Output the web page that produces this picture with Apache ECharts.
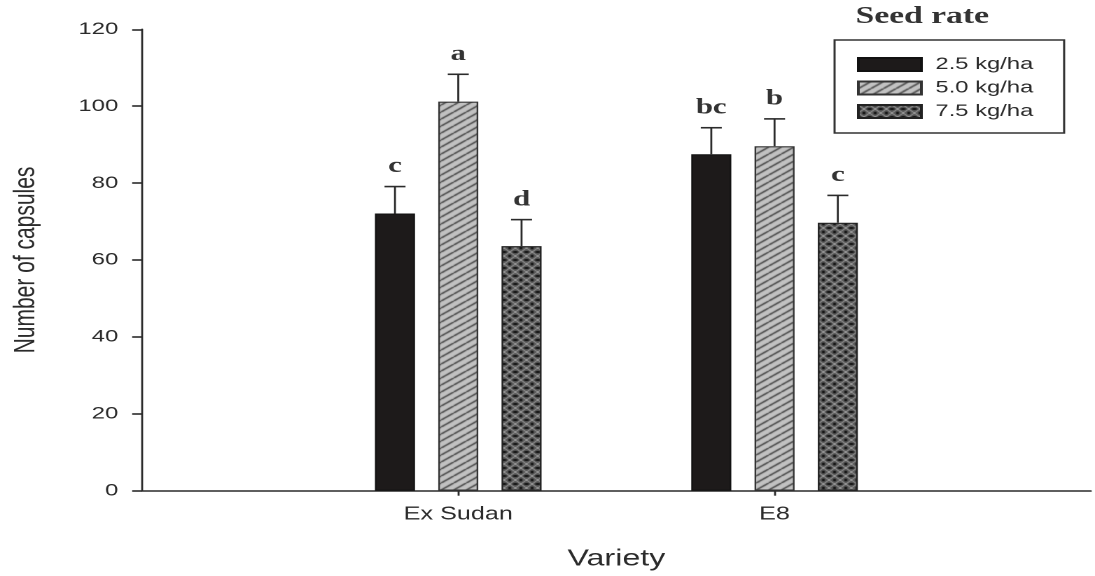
<!DOCTYPE html>
<html><head><meta charset="utf-8">
<script src="https://cdn.jsdelivr.net/npm/echarts@6/dist/echarts.min.js"></script>
<style>
html,body{margin:0;padding:0;background:#fff;overflow:hidden}
#chart{width:782px;height:576px;transform:scaleX(1.40026);transform-origin:0 0;}
</style></head>
<body><div id="chart"></div>
<script>
// ---- data ----
const categories = ['Ex Sudan', 'E8'];
const seriesNames = ['2.5 kg/ha', '5.0 kg/ha', '7.5 kg/ha'];
const rate25 = [72.1, 87.5];
const rate50 = [101.2, 89.6];
const rate75 = [63.6, 69.7];
const err25 = [7.0, 6.9];
const err50 = [7.1, 7.1];
const err75 = [6.9, 7.1];
const letters25 = ['c', 'bc'];
const letters50 = ['a', 'b'];
const letters75 = ['d', 'c'];
const yTicks = [0, 20, 40, 60, 80, 100, 120];

// ---- styling helpers ----
const BAR_W = 28.6, GAP_RATIO = 0.58;
const STEP = BAR_W * (1 + GAP_RATIO);
const INK = '#2b2b2b';

function hatchPattern() {
  const c = document.createElement('canvas');
  c.width = 9; c.height = 7;
  const g = c.getContext('2d');
  g.fillStyle = '#c2c2c2'; g.fillRect(0, 0, 9, 7);
  g.strokeStyle = '#3a3a3a'; g.lineWidth = 1.3;
  for (const dx of [-9, 0, 9]) {
    g.beginPath(); g.moveTo(dx, 7); g.lineTo(dx + 9, 0); g.stroke();
  }
  return { image: c, repeat: 'repeat' };
}
function crossPattern() {
  const c = document.createElement('canvas');
  c.width = 8; c.height = 8;
  const g = c.getContext('2d');
  g.fillStyle = '#575757'; g.fillRect(0, 0, 8, 8);
  g.strokeStyle = '#9a9a9a'; g.lineWidth = 1;
  g.beginPath(); g.moveTo(0, 0); g.lineTo(8, 8); g.stroke();
  g.beginPath(); g.moveTo(8, 0); g.lineTo(0, 8); g.stroke();
  g.fillStyle = '#111';
  g.fillRect(0, 3, 1.6, 2); g.fillRect(6.4, 3, 1.6, 2);
  g.fillRect(3, 0, 2, 1.2); g.fillRect(3, 6.8, 2, 1.2);
  return { image: c, repeat: 'repeat' };
}

const xData = [''].concat(categories, ['']);
const pad = arr => [null].concat(arr, [null]);

const groups = [
  { name: seriesNames[0], vals: rate25, errs: err25, letters: letters25,
    style: { color: '#1d1a1a', borderColor: '#111', borderWidth: 1 } },
  { name: seriesNames[1], vals: rate50, errs: err50, letters: letters50,
    style: { color: hatchPattern(), borderColor: '#333', borderWidth: 1.2 } },
  { name: seriesNames[2], vals: rate75, errs: err75, letters: letters75,
    style: { color: crossPattern(), borderColor: '#222', borderWidth: 1.2 } }
];

const series = [];
groups.forEach((gr, k) => {
  series.push({
    name: gr.name, type: 'bar', barWidth: BAR_W, barGap: (GAP_RATIO * 100) + '%',
    data: pad(gr.vals), itemStyle: gr.style, silent: true
  });
});
groups.forEach((gr, k) => {
  const data = gr.vals.map((v, i) => [i + 1, v, gr.errs[i]]);
  series.push({
    name: 'err' + k, type: 'custom', z: 5, silent: true,
    encode: { x: 0, y: 1 },
    data: data,
    renderItem: function (params, api) {
      const idx = api.value(0), v = api.value(1), e = api.value(2);
      const base = api.coord([idx, v]);
      const top = api.coord([idx, v + e]);
      const x = base[0] + (k - 1) * STEP;
      const halfCap = 7.5;
      return {
        type: 'group',
        children: [
          { type: 'line', shape: { x1: x, y1: base[1], x2: x, y2: top[1] },
            style: { stroke: INK, lineWidth: 1.4 } },
          { type: 'line', shape: { x1: x - halfCap, y1: top[1], x2: x + halfCap, y2: top[1] },
            style: { stroke: INK, lineWidth: 1.6 } },
          { type: 'text', x: x, y: top[1] - 9,
            style: { text: gr.letters[params.dataIndex], fill: '#333',
              font: 'bold 22px "Liberation Serif", serif',
              textAlign: 'center', textVerticalAlign: 'bottom' } }
        ]
      };
    }
  });
});

const chart = echarts.init(document.getElementById('chart'), null, { devicePixelRatio: 2 });
chart.setOption({
  animation: false,
  backgroundColor: '#fff',
  textStyle: { fontFamily: '"Liberation Sans", Arial, sans-serif' },
  grid: { left: 101.4, right: 1, top: 29.3, bottom: 85.3, containLabel: false },
  legend: {
    data: seriesNames, orient: 'vertical', left: 596, top: 40,
    icon: 'rect', itemWidth: 45, itemHeight: 13, itemGap: 6.5,
    padding: [16, 22, 13, 16], borderColor: '#333', borderWidth: 1.5,
    selectedMode: false,
    textStyle: { fontSize: 17, color: INK, lineHeight: 13, padding: [0, 0, 0, 5],
      fontFamily: '"Liberation Sans", Arial, sans-serif' }
  },
  graphic: [{
    type: 'text', left: 611, top: 5,
    style: { text: 'Seed rate', font: 'bold 24px "Liberation Serif", serif', fill: '#333' }
  }],
  xAxis: {
    type: 'category', data: xData, boundaryGap: false,
    name: 'Variety', nameLocation: 'middle', nameGap: 57,
    nameTextStyle: { fontSize: 23, color: INK },
    axisLine: { lineStyle: { color: INK, width: 1.6 } },
    axisTick: { show: true, length: 5, interval: (i, v) => v !== '',
      lineStyle: { color: INK, width: 1.4 } },
    axisLabel: { fontSize: 18, color: INK, margin: 15, interval: 0 },
    splitLine: { show: false }
  },
  yAxis: {
    type: 'value', min: yTicks[0], max: yTicks[yTicks.length - 1], interval: 20,
    name: 'Number of capsules', nameLocation: 'middle', nameGap: 72,
    nameTextStyle: { fontSize: 21, color: INK },
    axisLine: { show: true, lineStyle: { color: INK, width: 1.4 } },
    axisTick: { show: true, length: 7, lineStyle: { color: INK, width: 1.6 } },
    axisLabel: { fontSize: 17, color: INK, margin: 17 },
    splitLine: { show: false }
  },
  series: series
});
</script>
</body></html>
